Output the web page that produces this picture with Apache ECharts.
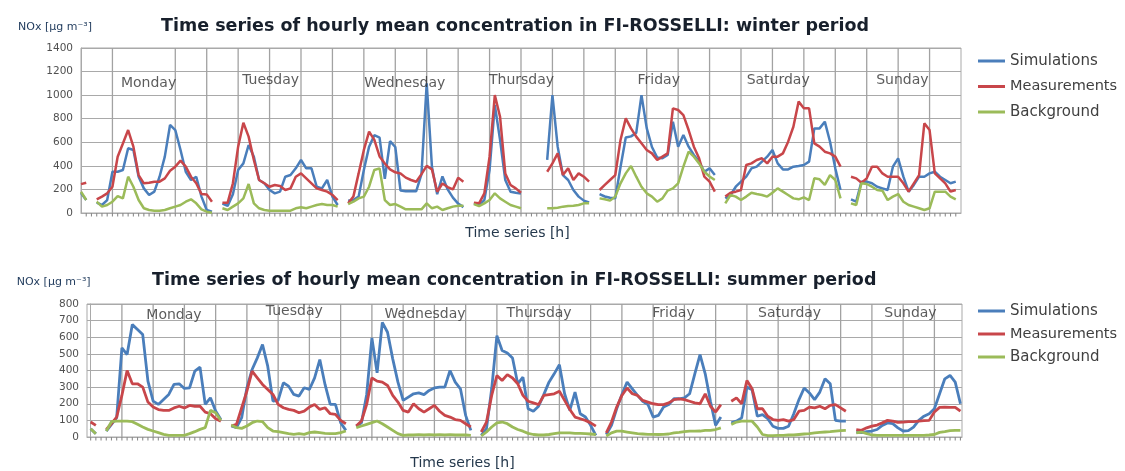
<!DOCTYPE html>
<html>
<head>
<meta charset="utf-8">
<script src="https://cdn.jsdelivr.net/npm/echarts@6/dist/echarts.min.js"></script>
<style>
html,body{margin:0;padding:0;background:#ffffff;}
#chart{width:1125px;height:471px;}
</style>
</head>
<body>
<div id="chart"></div>
<script>
// ---------------- DATA ----------------
const seriesNames = ['Simulations', 'Measurements', 'Background'];
const dayNames = ['Monday', 'Tuesday', 'Wednesday', 'Thursday', 'Friday', 'Saturday', 'Sunday'];
const winterTitle = 'Time series of hourly mean concentration in FI-ROSSELLI: winter period';
const summerTitle = 'Time series of hourly mean concentration in FI-ROSSELLI: summer period';
const yName = 'NOx [\u00b5g m\u207b\u00b3]';
const xName = 'Time series [h]';
const winterYTicks = [0, 200, 400, 600, 800, 1000, 1200, 1400];
const summerYTicks = [0, 100, 200, 300, 400, 500, 600, 700, 800];

// hourly values, 7 days x 24 h (null = missing)
const winterSim = [
 170,110,null,88,68,110,350,350,365,549,535,308,209,153,181,308,478,747,704,535,350,280,308,139,
 25,11,null,80,60,160,365,421,577,478,280,252,195,167,181,308,322,379,450,379,379,223,209,280,
 139,68,null,105,110,139,365,563,660,640,290,610,560,190,185,185,185,330,1100,390,160,310,200,130,
 80,50,null,82,68,110,365,916,620,280,181,172,165,null,null,null,null,450,1000,563,322,280,195,139,
 105,90,null,160,140,130,125,390,640,650,680,1000,720,560,470,464,492,775,563,662,563,492,436,350,
 379,322,null,124,153,223,266,308,379,393,436,478,535,421,370,370,393,399,407,436,718,718,775,605,
 379,195,null,116,96,266,266,252,223,209,195,393,464,308,181,238,308,308,336,350,308,280,252,266
];
const winterMeas = [
 245,257,null,116,139,167,223,478,590,704,563,322,252,257,266,266,294,359,393,444,393,308,252,161,
 158,96,null,88,88,252,563,766,648,450,280,252,223,238,229,195,209,308,336,294,252,209,195,181,
 153,110,null,82,139,336,535,690,620,480,420,370,345,335,300,280,265,330,400,370,180,250,220,200,
 300,265,null,88,82,167,478,1001,817,336,238,209,172,null,null,null,null,350,421,506,322,379,280,336,
 308,266,null,195,238,280,322,620,803,718,648,591,535,506,450,478,506,888,874,831,704,563,464,308,
 266,181,null,139,172,181,195,407,421,450,464,421,478,478,506,605,732,945,888,888,591,563,520,506,
 478,393,null,308,294,257,294,393,393,336,308,308,308,252,181,252,322,761,704,336,294,252,181,195
];
const winterBack = [
 180,110,null,96,54,68,96,144,124,308,223,110,40,25,20,20,25,40,54,68,96,116,82,31,
 11,3,null,40,25,54,82,124,246,82,40,25,20,20,20,20,20,40,48,40,54,68,76,68,
 68,54,null,76,96,124,139,223,365,379,110,68,76,54,31,31,31,31,82,40,54,25,40,54,
 62,62,null,76,59,82,110,167,124,96,68,54,40,null,null,null,null,40,40,45,54,59,62,68,
 82,82,null,124,116,105,139,252,336,399,308,223,167,139,96,124,190,209,252,393,520,478,421,350,
 310,280,null,82,153,139,110,139,172,161,153,139,172,209,181,153,124,116,133,110,294,286,238,322,
 280,124,null,82,68,252,246,223,195,189,110,139,161,96,68,54,40,25,40,181,181,181,139,116
];
const summerSim = [
 50,20,null,36,76,116,536,496,676,646,616,336,216,196,226,256,316,320,292,296,396,420,196,236,
 156,106,null,66,56,116,296,406,476,556,426,216,220,326,306,256,246,296,286,356,466,316,196,196,
 86,40,null,66,86,256,596,386,690,630,470,330,220,240,260,265,255,280,295,300,300,400,330,290,
 130,40,null,10,50,290,610,520,505,475,320,360,170,155,185,255,330,380,435,260,160,270,140,120,
 70,10,null,15,70,170,255,330,290,250,215,195,120,130,180,195,230,230,235,260,380,495,380,215,
 70,120,null,85,95,115,300,285,125,135,110,65,52,52,65,140,225,295,265,225,270,350,320,100,
 95,95,null,30,26,32,36,45,70,85,80,55,36,38,60,100,125,140,170,260,350,370,330,200
];
const summerMeas = [
 90,70,null,45,80,120,250,400,320,320,300,210,180,165,160,160,175,185,175,190,185,185,150,140,
 110,95,null,66,76,176,276,396,356,316,286,256,196,176,166,160,146,156,180,196,166,176,140,136,
 100,80,null,66,96,196,356,336,330,310,250,210,160,150,200,170,150,170,190,155,130,120,105,100,
 80,60,null,30,90,250,370,340,375,355,320,250,215,205,195,250,255,260,275,220,165,120,110,100,
 85,65,null,25,90,180,250,295,260,250,220,210,200,195,195,205,225,230,225,215,205,200,260,185,
 150,195,null,215,235,200,340,290,170,170,125,105,100,105,95,105,155,160,180,175,185,170,190,195,
 175,155,null,45,40,55,65,72,85,100,96,88,90,92,92,96,98,100,150,178,180,178,178,155
];
const summerBack = [
 50,20,null,36,92,96,96,96,92,76,60,46,36,26,16,10,10,10,10,20,32,46,56,160,
 146,100,null,72,56,52,66,86,96,92,56,36,32,26,20,16,20,16,26,30,26,22,20,20,
 26,36,null,56,66,76,86,96,80,60,40,20,10,12,12,14,12,14,12,14,12,14,12,12,
 12,10,null,6,30,60,85,90,80,60,45,35,22,15,12,12,15,20,25,25,25,22,22,20,
 18,15,null,6,25,35,35,30,25,20,18,16,16,15,16,18,25,28,32,35,35,36,40,40,
 45,55,null,75,90,95,96,95,60,15,8,8,10,10,12,12,15,18,20,25,28,30,32,35,
 38,40,null,25,30,20,12,10,10,10,10,10,10,10,10,10,10,12,15,28,32,38,40,40
];

// ---------------- LAYOUT / STYLE ----------------
const layout = {
  winterDayAnchors: [[12.9,1103],[36.2,1128],[61.8,1103],[84.1,1128],[110.3,1128],[133.1,1122],[156.8,1122]],
  summerDayAnchors: [[16.0,732],[39.1,756],[64.2,740],[86.1,746],[111.9,746],[134.2,746],[157.4,746]],
  winterVLines: [6,18,24,30,36,42,48,54,60,66,72,78,84,90,96,102,108,114,120,126,132,138,144,150,156,162],
  summerVLines: [6,12,18,24,30,36,42,48,54,60,66,72,78,84,90,96,102,108,114,120,126,132,138,144,150,156,162]
};
const COLORS = ['#4a7ebb', '#c8464a', '#9bbb59'];
const GRIDC = '#a9a9a9';
const VGRIDC = '#a2a2a2';
const FONT = 'DejaVu Sans';

const hourTicksW = []; for (let h = 1; h < 168; h++) hourTicksW.push(h);
const hourTicksS = []; for (let h = 0; h <= 167; h++) hourTicksS.push(h);

function pairs(arr) { return arr.map((v, i) => [i, v]); }

function lineSeries(name, arr, gi, color, width) {
  return {
    type: 'line', name: name, xAxisIndex: gi, yAxisIndex: gi,
    data: pairs(arr), symbol: 'none', showSymbol: false, connectNulls: false,
    lineStyle: { color: color, width: width }, itemStyle: { color: color },
    animation: false, z: 3
  };
}

// vertical grid lines, placed through the x scale
function vGridSeries(gi, hoursList, yMin, yMax) {
  return {
    type: 'custom', name: 'vgrid' + gi, xAxisIndex: gi, yAxisIndex: gi,
    data: hoursList.map(h => [h, yMin]), animation: false, z: 2,
    renderItem: function (params, api) {
      const h = api.value(0);
      const a = api.coord([h, yMax]);
      const b = api.coord([h, yMin]);
      return { type: 'line',
               shape: { x1: a[0], y1: a[1], x2: b[0], y2: b[1] },
               style: { stroke: VGRIDC, lineWidth: 1.3 } };
    }
  };
}

// small hourly ticks under the x axis
function tickSeries(gi, hoursList, yMin) {
  return {
    type: 'custom', name: 'ticks' + gi, xAxisIndex: gi, yAxisIndex: gi,
    data: hoursList.map(h => [h, yMin]), animation: false, z: 2, clip: false,
    renderItem: function (params, api) {
      const p = api.coord([api.value(0), yMin]);
      return { type: 'line',
               shape: { x1: p[0], y1: p[1], x2: p[0], y2: p[1] + 3.5 },
               style: { stroke: '#8c8c8c', lineWidth: 1.1 } };
    }
  };
}

function daySeries(gi, anchors) {
  return {
    type: 'scatter', name: 'days' + gi, xAxisIndex: gi, yAxisIndex: gi,
    data: anchors, symbolSize: 1, itemStyle: { color: 'rgba(0,0,0,0)' },
    animation: false, z: 4,
    label: { show: true, position: 'inside', formatter: p => dayNames[p.dataIndex],
             fontFamily: FONT, fontSize: 14, color: '#333333' }
  };
}

function xAxisDef(gi, min, max, gap, pad) {
  return {
    type: 'value', gridIndex: gi, min: min, max: max,
    axisLine: { show: true, lineStyle: { color: GRIDC, width: 1 } },
    axisTick: { show: false },
    axisLabel: { show: false },
    splitLine: { show: false },
    name: xName, nameLocation: 'middle', nameGap: gap,
    nameTextStyle: { fontFamily: FONT, fontSize: 14, color: '#24384c', padding: pad }
  };
}

function yAxisDef(gi, ticks, gap, pad) {
  return {
    type: 'value', gridIndex: gi, min: ticks[0], max: ticks[ticks.length - 1],
    interval: ticks[1] - ticks[0],
    axisLine: { show: true, lineStyle: { color: GRIDC } },
    axisTick: { show: false },
    axisLabel: { fontFamily: FONT, fontSize: 10.5, color: '#505050', margin: 8,
                 formatter: v => String(v) },
    splitLine: { show: true, lineStyle: { color: GRIDC, width: 1 } },
    name: yName, nameLocation: 'end', nameGap: gap,
    nameTextStyle: { fontFamily: FONT, fontSize: 11, color: '#1f3a5c', padding: pad }
  };
}

function legendDef(top, gap) {
  return {
    orient: 'vertical', left: 978, top: top, padding: 0, itemGap: gap,
    itemWidth: 27, itemHeight: 3, icon: 'rect', selectedMode: false,
    textStyle: { fontFamily: FONT, fontSize: 15, color: '#404040', lineHeight: 18 },
    data: [
      { name: seriesNames[0] },
      { name: seriesNames[1], textStyle: { fontSize: 14.5 } },
      { name: seriesNames[2] }
    ]
  };
}

const option = {
  backgroundColor: '#ffffff',
  animation: false,
  title: [
    { text: winterTitle, left: 156, top: 12,
      textStyle: { fontFamily: FONT, fontWeight: 'bold', fontSize: 17.5, color: '#18202c' } },
    { text: summerTitle, left: 147, top: 266,
      textStyle: { fontFamily: FONT, fontWeight: 'bold', fontSize: 17.5, color: '#18202c' } }
  ],
  legend: [ legendDef(52, 7.5), legendDef(302, 5) ],
  grid: [
    { left: 81, top: 48, width: 880, height: 165, show: true, borderColor: GRIDC, borderWidth: 1 },
    { left: 87, top: 304, width: 875, height: 134, show: true, borderColor: GRIDC, borderWidth: 1 }
  ],
  xAxis: [
    xAxisDef(0, 0, 168, 13, [0, 7, 0, 0]),
    xAxisDef(1, -0.7, 167.3, 19, [0, 124, 0, 0])
  ],
  yAxis: [
    yAxisDef(0, winterYTicks, 15, [0, 52, 0, 0]),
    yAxisDef(1, summerYTicks, 16, [0, 74, 0, 0])
  ],
  series: [
    vGridSeries(0, layout.winterVLines, winterYTicks[0], winterYTicks[winterYTicks.length - 1]),
    vGridSeries(1, layout.summerVLines, summerYTicks[0], summerYTicks[summerYTicks.length - 1]),
    tickSeries(0, hourTicksW, winterYTicks[0]),
    tickSeries(1, hourTicksS, summerYTicks[0]),
    lineSeries(seriesNames[0], winterSim, 0, COLORS[0], 2.5),
    lineSeries(seriesNames[1], winterMeas, 0, COLORS[1], 2.5),
    lineSeries(seriesNames[2], winterBack, 0, COLORS[2], 2.5),
    lineSeries(seriesNames[0], summerSim, 1, COLORS[0], 2.8),
    lineSeries(seriesNames[1], summerMeas, 1, COLORS[1], 2.8),
    lineSeries(seriesNames[2], summerBack, 1, COLORS[2], 2.8),
    daySeries(0, layout.winterDayAnchors),
    daySeries(1, layout.summerDayAnchors)
  ]
};

const chart = echarts.init(document.getElementById('chart'), null, { renderer: 'canvas' });
chart.setOption(option);
</script>
</body>
</html>
